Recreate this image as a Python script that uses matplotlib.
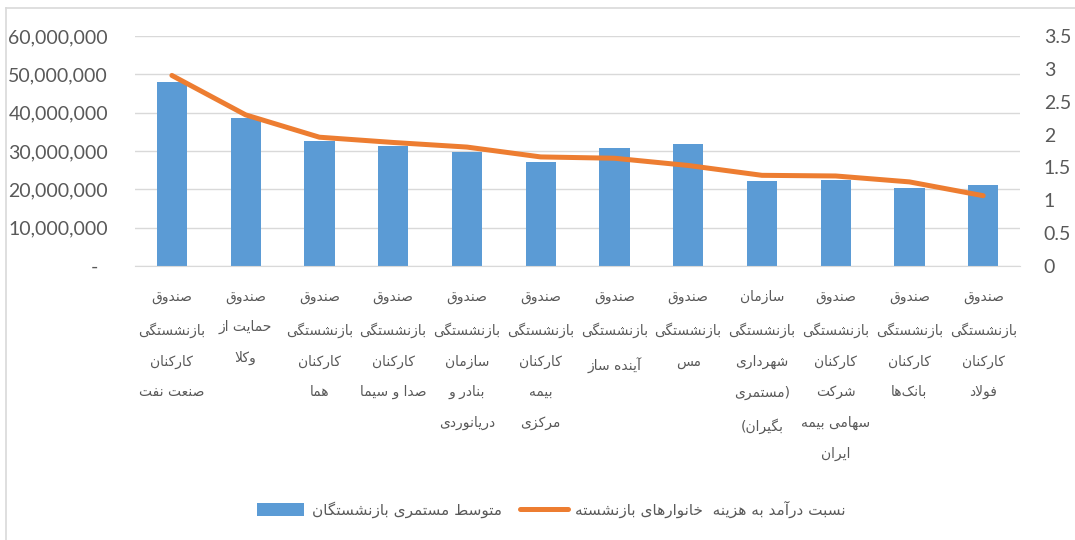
import matplotlib
matplotlib.use("Agg")
import matplotlib.pyplot as plt
from matplotlib.lines import Line2D
from matplotlib.ticker import FuncFormatter, MultipleLocator

BAR_COLOR = "#5B9BD5"
LINE_COLOR = "#ED7D31"
GRID_COLOR = "#D9D9D9"
TEXT_COLOR = "#595959"

categories = [
    "صندوق\nبازنشستگی\nکارکنان\nصنعت نفت",
    "صندوق\nحمایت از\nوکلا",
    "صندوق\nبازنشستگی\nکارکنان\nهما",
    "صندوق\nبازنشستگی\nکارکنان\nصدا و سیما",
    "صندوق\nبازنشستگی\nسازمان\nبنادر و\nدریانوردی",
    "صندوق\nبازنشستگی\nکارکنان\nبیمه\nمرکزی",
    "صندوق\nبازنشستگی\nآینده ساز",
    "صندوق\nبازنشستگی\nمس",
    "سازمان\nبازنشستگی\nشهرداری\n(مستمری\nبگیران)",
    "صندوق\nبازنشستگی\nکارکنان\nشرکت\nسهامی بیمه\nایران",
    "صندوق\nبازنشستگی\nکارکنان\nبانک\u200cها",
    "صندوق\nبازنشستگی\nکارکنان\nفولاد",
]
avg_pension = [48.0e6, 38.6e6, 32.6e6, 31.3e6, 29.8e6, 27.2e6,
               30.8e6, 31.8e6, 22.2e6, 22.5e6, 20.3e6, 21.2e6]
income_cost_ratio = [2.90, 2.30, 1.96, 1.88, 1.81, 1.66,
                     1.64, 1.53, 1.38, 1.37, 1.28, 1.07]
bar_label = "متوسط مستمری بازنشستگان"
line_label = "نسبت درآمد به هزینه  خانوارهای بازنشسته"

# --- minimal Arabic/Persian shaping (matplotlib has no complex text layout)
FORMS = {
    "ا": (0xFE8D, 0xFE8E), "آ": (0xFE81, 0xFE82),
    "ب": (0xFE8F, 0xFE90, 0xFE91, 0xFE92), "پ": (0xFB56, 0xFB57, 0xFB58, 0xFB59),
    "ت": (0xFE95, 0xFE96, 0xFE97, 0xFE98), "ث": (0xFE99, 0xFE9A, 0xFE9B, 0xFE9C),
    "ج": (0xFE9D, 0xFE9E, 0xFE9F, 0xFEA0), "چ": (0xFB7A, 0xFB7B, 0xFB7C, 0xFB7D),
    "ح": (0xFEA1, 0xFEA2, 0xFEA3, 0xFEA4), "خ": (0xFEA5, 0xFEA6, 0xFEA7, 0xFEA8),
    "د": (0xFEA9, 0xFEAA), "ذ": (0xFEAB, 0xFEAC), "ر": (0xFEAD, 0xFEAE),
    "ز": (0xFEAF, 0xFEB0), "ژ": (0xFB8A, 0xFB8B),
    "س": (0xFEB1, 0xFEB2, 0xFEB3, 0xFEB4), "ش": (0xFEB5, 0xFEB6, 0xFEB7, 0xFEB8),
    "ص": (0xFEB9, 0xFEBA, 0xFEBB, 0xFEBC), "ض": (0xFEBD, 0xFEBE, 0xFEBF, 0xFEC0),
    "ط": (0xFEC1, 0xFEC2, 0xFEC3, 0xFEC4), "ظ": (0xFEC5, 0xFEC6, 0xFEC7, 0xFEC8),
    "ع": (0xFEC9, 0xFECA, 0xFECB, 0xFECC), "غ": (0xFECD, 0xFECE, 0xFECF, 0xFED0),
    "ف": (0xFED1, 0xFED2, 0xFED3, 0xFED4), "ق": (0xFED5, 0xFED6, 0xFED7, 0xFED8),
    "ک": (0xFB8E, 0xFB8F, 0xFB90, 0xFB91), "گ": (0xFB92, 0xFB93, 0xFB94, 0xFB95),
    "ل": (0xFEDD, 0xFEDE, 0xFEDF, 0xFEE0), "م": (0xFEE1, 0xFEE2, 0xFEE3, 0xFEE4),
    "ن": (0xFEE5, 0xFEE6, 0xFEE7, 0xFEE8), "و": (0xFEED, 0xFEEE),
    "ه": (0xFEE9, 0xFEEA, 0xFEEB, 0xFEEC), "ی": (0xFBFC, 0xFBFD, 0xFBFE, 0xFBFF),
}
LAM_ALEF = {"ا": (0xFEFB, 0xFEFC), "آ": (0xFEF5, 0xFEF6)}
MIRROR = {"(": ")", ")": "("}


def shape(text):
    out = []
    i = 0
    n = len(text)
    while i < n:
        ch = text[i]
        if ch not in FORMS:
            if ch != "\u200c":
                out.append(ch)
            i += 1
            continue
        prev = text[i - 1] if i > 0 else None
        join_prev = prev in FORMS and len(FORMS[prev]) == 4
        if ch == "ل" and i + 1 < n and text[i + 1] in LAM_ALEF:
            out.append(chr(LAM_ALEF[text[i + 1]][1 if join_prev else 0]))
            i += 2
            continue
        nxt = text[i + 1] if i + 1 < n else None
        join_next = len(FORMS[ch]) == 4 and nxt in FORMS
        if join_prev and join_next:
            k = 3
        elif join_prev:
            k = 1
        elif join_next:
            k = 2
        else:
            k = 0
        out.append(chr(FORMS[ch][k]))
        i += 1
    return "".join(out)


def rtl(text):
    lines = []
    for line in text.split("\n"):
        vis = shape(line)[::-1]
        lines.append("".join(MIRROR.get(c, c) for c in vis))
    return "\n".join(lines)


fig = plt.figure(figsize=(10.75, 5.4), dpi=100)
ax = fig.add_axes([0.1256, 0.5074, 0.8233, 0.4259])
ax2 = ax.twinx()

x = list(range(len(categories)))
ax.bar(x, avg_pension, width=0.41, color=BAR_COLOR, zorder=2,
       label=rtl(bar_label))
ax2.plot(x, income_cost_ratio, color=LINE_COLOR, linewidth=3.6,
         solid_capstyle="round", solid_joinstyle="round",
         label=rtl(line_label))

ax.set_xlim(-0.5, len(categories) - 0.5)
ax.set_ylim(0, 60e6)
ax2.set_ylim(0, 3.5)
ax.yaxis.set_major_locator(MultipleLocator(10e6))
ax2.yaxis.set_major_locator(MultipleLocator(0.5))
ax.yaxis.set_major_formatter(
    FuncFormatter(lambda v, p: "-  " if v == 0 else f"{v:,.0f}"))
ax2.yaxis.set_major_formatter(FuncFormatter(lambda v, p: f"{v:g}"))

ax.grid(axis="y", color=GRID_COLOR, linewidth=1.0, zorder=0)
ax.set_axisbelow(True)
for s in ("top", "left", "right"):
    ax.spines[s].set_visible(False)
for s in ax2.spines.values():
    s.set_visible(False)
ax.spines["bottom"].set_color(GRID_COLOR)

ax.tick_params(axis="y", length=0, pad=19.5, labelsize=14, labelcolor=TEXT_COLOR)
ax2.tick_params(axis="y", length=0, pad=17, labelsize=14, labelcolor=TEXT_COLOR)
for lab in ax.get_yticklabels() + ax2.get_yticklabels():
    lab.set_fontfamily("Lato")

ax.set_xticks(x)
ax.set_xticklabels([rtl(c) for c in categories], fontfamily="DejaVu Sans",
                   fontsize=10, color=TEXT_COLOR, linespacing=2.5, va="top")
ax.tick_params(axis="x", length=0, pad=17)

h1, l1 = ax.get_legend_handles_labels()
h2, l2 = ax2.get_legend_handles_labels()
leg = fig.legend(h1 + h2, l1 + l2, loc="center", ncol=2,
                 bbox_to_anchor=(0.513, 0.057), frameon=False,
                 prop={"family": "DejaVu Sans", "size": 11},
                 handlelength=3.1, handleheight=0.9, columnspacing=1.2,
                 handletextpad=0.5)
for t in leg.get_texts():
    t.set_color(TEXT_COLOR)

# chart-area border (left and top edges are visible in the reference)
fig.add_artist(Line2D([0.006, 0.006], [0.0, 0.985], transform=fig.transFigure,
                      color=GRID_COLOR, linewidth=1.2))
fig.add_artist(Line2D([0.006, 1.0], [0.985, 0.985], transform=fig.transFigure,
                      color=GRID_COLOR, linewidth=1.2))

fig.savefig("out.png", dpi=100)
